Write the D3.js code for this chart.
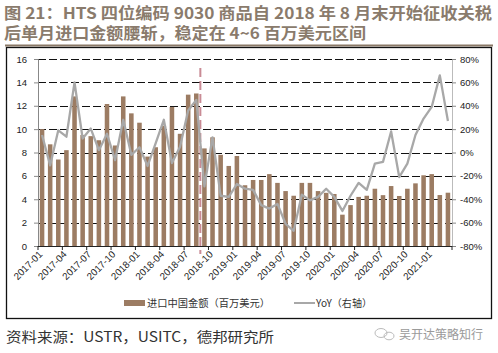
<!DOCTYPE html>
<html><head><meta charset="utf-8">
<script src="https://cdn.jsdelivr.net/npm/d3@7/dist/d3.min.js"></script>
<style>
html,body{margin:0;padding:0;background:#fff;}
svg{display:block;font-family:"Noto Sans CJK SC","Noto Sans",sans-serif;}
</style></head>
<body><svg id="c" width="498" height="353"></svg>
<script>
const months = [];
for (let y = 2017; y <= 2021; y++) for (let m = 1; m <= 12; m++) {
  if (y === 2021 && m > 3) break;
  months.push(y + "-" + String(m).padStart(2, "0"));
}
const importValues = [10.0,8.7,7.4,8.2,12.8,9.5,9.4,9.05,12.15,8.6,12.8,11.35,
  10.55,7.65,8.45,10.3,11.9,9.6,12.95,13.05,8.35,9.3,7.8,6.85,
  7.7,5.2,5.65,5.65,6.15,5.4,4.7,4.3,5.4,5.4,4.7,4.55,
  4.45,2.68,3.5,4.2,4.3,4.9,4.35,5.13,4.28,4.9,5.36,6.05,
  6.15,4.36,4.56];
const yoyValues = [15,-11,19,13.5,60,12,20.5,2,16,-6.5,28,-2,
  4.5,-11.5,8,28,-9,5,36,45,-29,13,-37,-38,
  -27,-31,-32,-45,-48,-44,-61,-67,-36,-41,-38,-31,
  -38,-50,-37,-26,-32,-9.5,-8,18,-21,-9.5,15,29,
  39,66,27];
const leftTicks = [0,2,4,6,8,10,12,14,16];
const rightTicks = [-80,-60,-40,-20,0,20,40,60,80];
const xTickLabels = months.filter((d,i) => i % 3 === 0);
const tariffMonth = "2018-08";

const svg = d3.select("#c");
const L = 38, R = 452, T = 59, B = 246;

// title
const title = svg.append("g").attr("fill", "#8a7b6c").attr("font-weight", "bold").attr("font-size", 15.5);
title.append("text").attr("x", 4).attr("y", 19).attr("textLength", 488).attr("lengthAdjust","spacingAndGlyphs")
  .text("图 21：HTS 四位编码 9030 商品自 2018 年 8 月末开始征收关税");
title.append("text").attr("x", 4).attr("y", 39).attr("textLength", 362).attr("lengthAdjust","spacingAndGlyphs")
  .text("后单月进口金额腰斩，稳定在 4~6 百万美元区间");

// frame
svg.append("line").attr("x1",5).attr("x2",493).attr("y1",45.5).attr("y2",45.5).attr("stroke","#8a7967").attr("stroke-width",2);
svg.append("rect").attr("x",6.5).attr("y",47.5).attr("width",485).attr("height",271).attr("fill","none").attr("stroke","#111").attr("stroke-width",1.3);

const x = d3.scaleBand().domain(months).range([L, R]).paddingInner(0.44).paddingOuter(0.22);
const step = (R - L) / months.length;
const y = d3.scaleLinear().domain([0,16]).range([B, T]);
const y2 = d3.scaleLinear().domain([-80,80]).range([B, T]);

// gridlines
svg.append("g").selectAll("line").data(leftTicks.filter(d => d > 0)).join("line")
  .attr("x1", L).attr("x2", R).attr("y1", d => Math.round(y(d))+0.5).attr("y2", d => Math.round(y(d))+0.5)
  .attr("stroke", "#111").attr("stroke-width", 1).attr("stroke-dasharray", "8,3");

// bars
svg.append("g").selectAll("rect").data(importValues).join("rect")
  .attr("x", (d,i) => x(months[i])).attr("width", x.bandwidth())
  .attr("y", d => y(d)).attr("height", d => B - y(d))
  .attr("fill", "#9c7c63");

// left axis
const ax = svg.append("g").attr("transform", `translate(${L},0)`)
  .call(d3.axisLeft(y).tickValues(leftTicks).tickSize(4).tickPadding(7).tickFormat(d3.format("d")));
ax.select(".domain").attr("stroke", "#888");
ax.selectAll(".tick line").attr("stroke", "#888");
ax.selectAll("text").attr("font-size", 9.5).attr("fill", "#222").attr("font-family", "Liberation Sans, Arial, sans-serif");

// right axis
const ax2 = svg.append("g").attr("transform", `translate(${R},0)`)
  .call(d3.axisRight(y2).tickValues(rightTicks).tickSize(4).tickPadding(4).tickFormat(d => d + "%"));
ax2.select(".domain").attr("stroke", "#bbb");
ax2.selectAll(".tick line").attr("stroke", "#888");
ax2.selectAll("text").attr("font-size", 9.5).attr("fill", "#222").attr("font-family", "Liberation Sans, Arial, sans-serif");

// x axis
svg.append("line").attr("x1", L).attr("x2", R).attr("y1", B+0.5).attr("y2", B+0.5).attr("stroke", "#222");
const xt = svg.append("g");
months.forEach((m, i) => {
  if (i % 3 === 0) {
    const tx = L + i * step;
    xt.append("line").attr("x1", tx).attr("x2", tx).attr("y1", B).attr("y2", B+4).attr("stroke", "#222");
  }
});
xt.append("line").attr("x1", R).attr("x2", R).attr("y1", B).attr("y2", B+4).attr("stroke", "#222");
xt.selectAll("text").data(xTickLabels).join("text")
  .attr("transform", d => `translate(${x(d) + x.bandwidth()/2 + 1},${B+9}) rotate(-45)`)
  .attr("text-anchor", "end").attr("font-size", 9.8).attr("fill", "#222")
  .attr("font-family", "Liberation Sans, Arial, sans-serif").text(d => d);

// tariff dashed line
const tX = x(tariffMonth) + x.bandwidth() + (step - x.bandwidth())/2;
svg.append("line").attr("x1", tX).attr("x2", tX).attr("y1", 68).attr("y2", 254)
  .attr("stroke", "#c47f8a").attr("stroke-width", 2).attr("stroke-dasharray", "9,4").attr("opacity", 0.9);

// yoy line
const line = d3.line().x((d,i) => x(months[i]) + x.bandwidth()/2).y(d => y2(d));
svg.append("path").datum(yoyValues).attr("d", line).attr("fill", "none")
  .attr("stroke", "#a8a8a8").attr("stroke-width", 2.3).attr("stroke-linejoin", "round");

// legend
const lg = svg.append("g").attr("font-size", 10).attr("fill", "#333");
lg.append("rect").attr("x", 124).attr("y", 300).attr("width", 21).attr("height", 6).attr("fill", "#9c7c63");
lg.append("text").attr("x", 147).attr("y", 307).attr("textLength", 123).attr("lengthAdjust","spacingAndGlyphs").text("进口中国金额（百万美元）");
lg.append("line").attr("x1", 294).attr("x2", 315).attr("y1", 303).attr("y2", 303).attr("stroke", "#a8a8a8").attr("stroke-width", 2);
lg.append("text").attr("x", 316).attr("y", 307).attr("textLength", 56).attr("lengthAdjust","spacingAndGlyphs").text("YoY（右轴）");

// source
svg.append("text").attr("x", 6).attr("y", 342).attr("font-size", 14).attr("fill", "#333")
  .attr("textLength", 268).attr("lengthAdjust","spacingAndGlyphs")
  .text("资料来源：USTR，USITC，德邦研究所");
// watermark
const wm = svg.append("g").attr("fill", "#9a9a9a");
wm.append("ellipse").attr("cx", 381).attr("cy", 333).attr("rx", 6).attr("ry", 4.5).attr("fill","none").attr("stroke","#bbb");
wm.append("ellipse").attr("cx", 389).attr("cy", 336).attr("rx", 5).attr("ry", 3.8).attr("fill","none").attr("stroke","#bbb");
wm.append("text").attr("x", 399).attr("y", 339).attr("font-size", 12).attr("textLength", 84).attr("lengthAdjust","spacingAndGlyphs").text("吴开达策略知行");
</script></body></html>
